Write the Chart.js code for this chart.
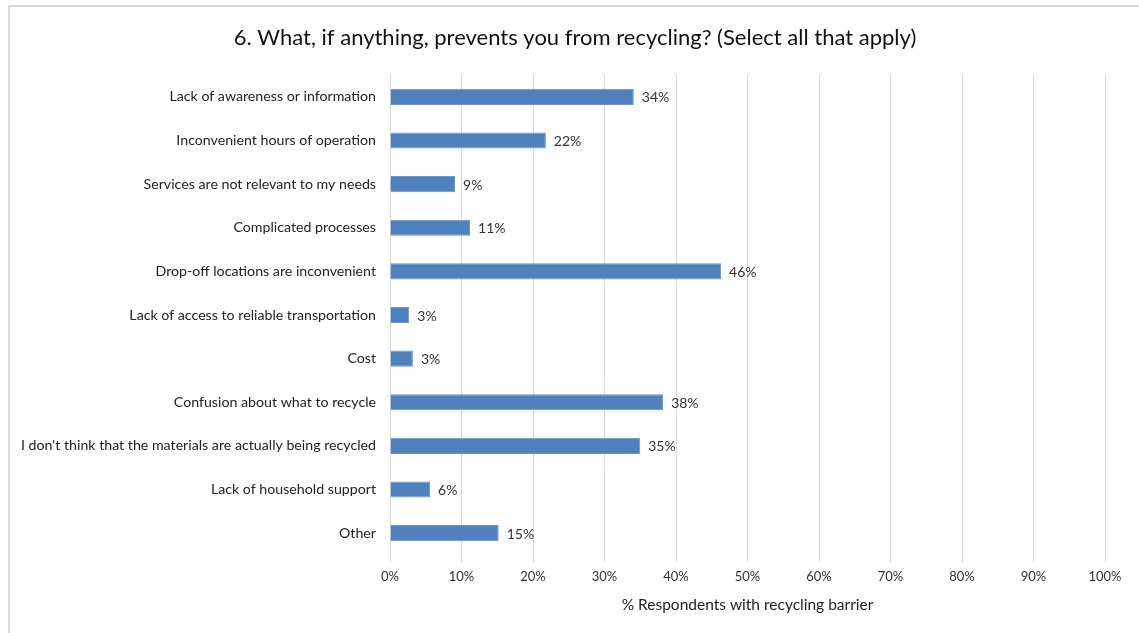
<!DOCTYPE html>
<html lang="en">
<head>
    <meta charset="UTF-8">
    <title>What prevents you from recycling</title>
    <script src="https://cdn.jsdelivr.net/npm/chart.js"></script>
    <style>
        body { margin: 0; background: #fff; }
    </style>
</head>
<body>
    <canvas id="myChart" width="1139" height="633"></canvas>
    <script>
        const titleText = '6. What, if anything, prevents you from recycling? (Select all that apply)';
        const categories = [
            'Lack of awareness or information',
            'Inconvenient hours of operation',
            'Services are not relevant to my needs',
            'Complicated processes',
            'Drop-off locations are inconvenient',
            'Lack of access to reliable transportation',
            'Cost',
            'Confusion about what to recycle',
            "I don't think that the materials are actually being recycled",
            'Lack of household support',
            'Other'
        ];
        const values = [34.1, 21.8, 9.1, 11.2, 46.3, 2.7, 3.2, 38.2, 35.0, 5.6, 15.2];
        const valueLabels = ['34%', '22%', '9%', '11%', '46%', '3%', '3%', '38%', '35%', '6%', '15%'];
        const xTicks = [0, 10, 20, 30, 40, 50, 60, 70, 80, 90, 100];

        const fontFamily = 'Lato, "Open Sans", sans-serif';

        // white background, light frame and the title (centred on the framed area)
        const framePlugin = {
            id: 'frame',
            beforeDraw(chart) {
                const c = chart.ctx;
                c.save();
                c.fillStyle = '#fff';
                c.fillRect(0, 0, chart.width, chart.height);
                c.strokeStyle = '#dadada';
                c.lineWidth = 2;
                c.strokeRect(9, 6, chart.width + 20, chart.height + 20);
                c.font = '22px ' + fontFamily;
                c.fillStyle = '#111';
                c.textAlign = 'center';
                c.textBaseline = 'middle';
                c.fillText(titleText, 575, 38);
                c.restore();
            }
        };

        // value labels at the end of each bar
        const barLabels = {
            id: 'barLabels',
            afterDatasetsDraw(chart) {
                const c = chart.ctx;
                const meta = chart.getDatasetMeta(0);
                c.save();
                c.font = '14px ' + fontFamily;
                c.fillStyle = '#333';
                c.textAlign = 'left';
                c.textBaseline = 'middle';
                meta.data.forEach((bar, i) => {
                    c.fillText(valueLabels[i], bar.x + 8, bar.y + 1);
                });
                c.restore();
            }
        };

        const ctx = document.getElementById('myChart').getContext('2d');
        const myChart = new Chart(ctx, {
            type: 'bar',
            data: {
                labels: categories,
                datasets: [{
                    data: values,
                    backgroundColor: '#4f81bd',
                    borderColor: '#6a95c8',
                    borderWidth: 1,
                    categoryPercentage: 1,
                    barPercentage: 0.37
                }]
            },
            options: {
                indexAxis: 'y',
                responsive: false,
                animation: false,
                layout: {
                    padding: { top: 75, right: 34, bottom: 0, left: 0 }
                },
                plugins: {
                    legend: { display: false },
                    tooltip: { enabled: false },
                    title: { display: false }
                },
                scales: {
                    x: {
                        min: 0,
                        max: 100,
                        afterBuildTicks(scale) {
                            scale.ticks = xTicks.map(v => ({ value: v }));
                        },
                        afterFit(scale) {
                            scale.height = 78;
                        },
                        grid: {
                            color: '#d9d9d9',
                            lineWidth: 1,
                            drawTicks: true,
                            tickLength: 7
                        },
                        border: { display: false },
                        ticks: {
                            color: '#333',
                            font: { family: fontFamily, size: 13 },
                            padding: 7,
                            callback: v => v + '%'
                        },
                        title: {
                            display: true,
                            text: '% Respondents with recycling barrier',
                            color: '#222',
                            font: { family: fontFamily, size: 15.5 },
                            padding: { top: 4, bottom: 19 }
                        }
                    },
                    y: {
                        afterFit(scale) {
                            scale.width = 390;
                        },
                        grid: { display: false },
                        border: { display: false },
                        ticks: {
                            color: '#222',
                            font: { family: fontFamily, size: 14.2 },
                            padding: 6,
                            autoSkip: false
                        }
                    }
                }
            },
            plugins: [framePlugin, barLabels]
        });
    </script>
</body>
</html>
